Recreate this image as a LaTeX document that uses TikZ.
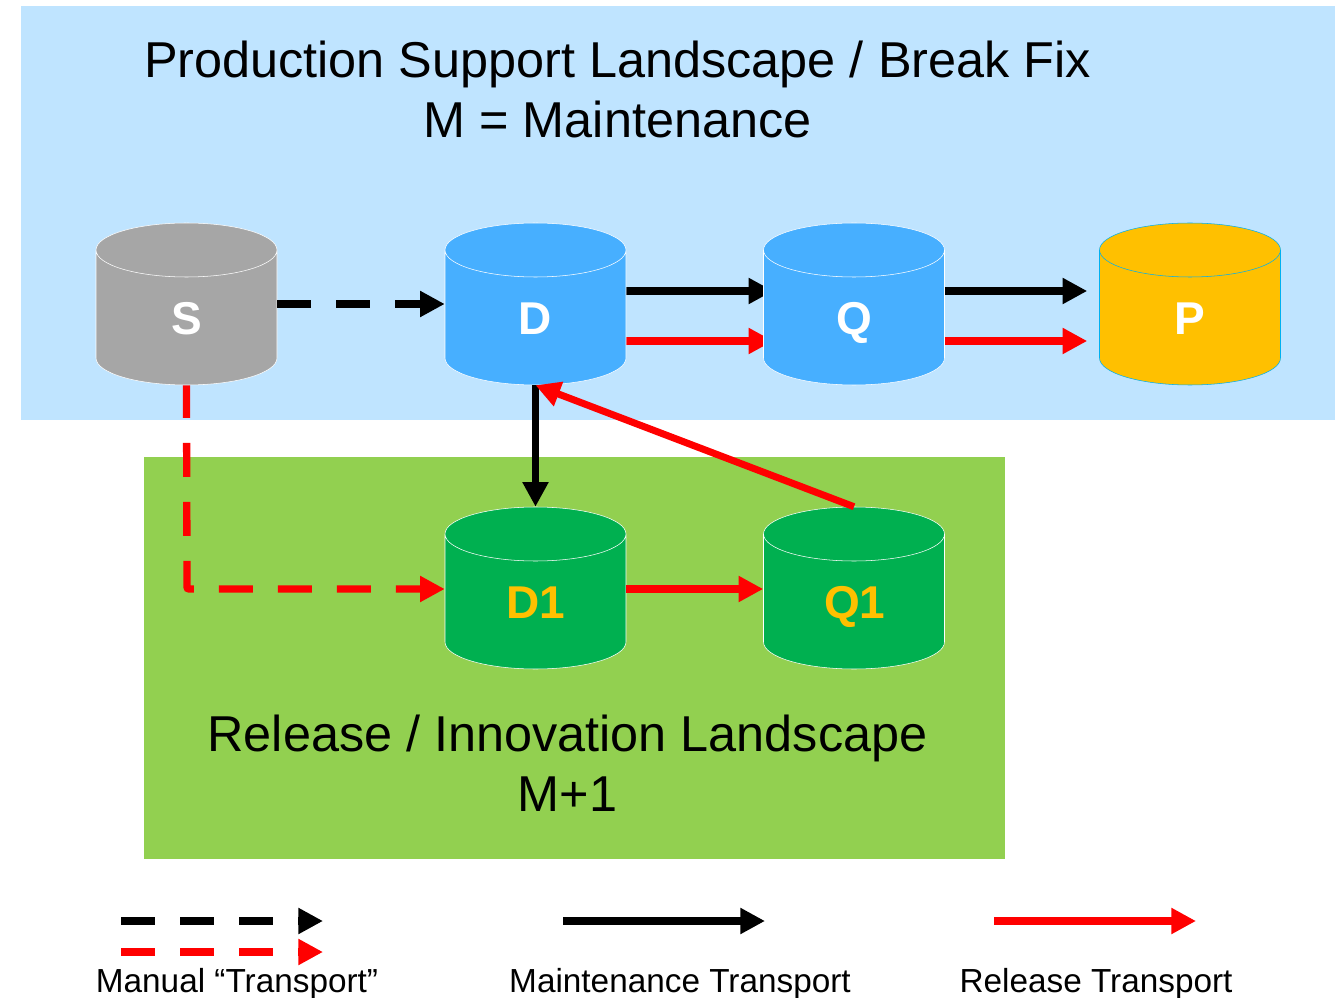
\documentclass[tikz,border=0pt]{standalone}
\usepackage{fontspec}
\setmainfont{Liberation Sans}
\usetikzlibrary{arrows.meta}
\usetikzlibrary{shapes.geometric}
\definecolor{prodblue}{RGB}{191,228,255}
\definecolor{relgreen}{RGB}{146,208,80}
\definecolor{mydarkblue}{RGB}{71,175,255}
\definecolor{mydarkgreen}{RGB}{0,176,80}
\definecolor{mygray}{RGB}{166,166,166}
\definecolor{myorange}{RGB}{255,192,0}
\definecolor{myedge}{RGB}{0,176,240}
\newcommand{\widthstore}{135.75pt}
\newcommand{\heightstore}{121.5pt}
\pgfdeclarelayer{back}
\pgfdeclarelayer{links}
\pgfsetlayers{back,links,main}
\tikzset{
    store/.style={draw=white, cylinder, shape border rotate=90, aspect=0.9, anchor=shape center, minimum width=\widthstore, minimum height=\heightstore, inner sep=0pt, text=white, text width=45pt, align=center, text height=25pt, text depth=0pt, font=\bfseries\fontsize{34.5}{40}\selectfont},
    caption/.style={align=center, font=\fontsize{37.8}{45}\selectfont},
    legend/.style={font=\fontsize{25}{30}\selectfont},
    move/.style={-{Triangle[length=18.5pt, width=18.5pt]}, line width=6.5pt},
    manual/.style={move, dash pattern=on 25.5pt off 18.75pt},
    maint/.style={move, black},
    rel/.style={move, red},
    thin move/.style={line width=5.25pt},
}

\begin{document}
\begin{tikzpicture}[x=0.75pt, y=-0.75pt]
    \useasboundingbox (0,0) rectangle (1335,998);
    \begin{pgfonlayer}{back}
        \fill[prodblue] (21,6) rectangle (1335,420);
        \fill[relgreen] (144,457) rectangle (1005,859);
    \end{pgfonlayer}
    \node[caption] (prodtitle) at (617.5,89.5) {Production Support Landscape / Break Fix\\M = Maintenance};
    \node[caption] (reltitle) at (567.5,763.5) {Release / Innovation Landscape\\M+1};

    \path (186.5,304)
        node[store, fill=mygray] (S) {S}
        ++(349,0) node[store, fill=mydarkblue] (D) {D}
        ++(318.5,0) node[store, fill=mydarkblue] (Q) {Q}
        ++(336,0) node[store, fill=myorange, draw=myedge] (P) {P};
    \path (535.5,588)
        node[store, fill=mydarkgreen, text=myorange] (D1) {D1}
        ++(318.5,0) node[store, fill=mydarkgreen, text=myorange] (Q1) {Q1};

    \coordinate (maintrow) at (0,291);
    \coordinate (relrow) at (0,341);
    \coordinate (bend) at (187,589);
    \coordinate (mantop-a) at (121,921);
    \coordinate (mantop-b) at (323,921);
    \coordinate (manlow-a) at (121,952);
    \coordinate (manlow-b) at (323,952);
    \coordinate (maint-a) at (563,921);
    \coordinate (maint-b) at (765,921);
    \coordinate (rel-a) at (994,921);
    \coordinate (rel-b) at (1196,921);

    \draw[manual, black] (S.east |- S.shape center) -- (D.west |- S.shape center);
    \begin{pgfonlayer}{links}
        \draw[maint, shorten >=-7.5pt] (D.east |- maintrow) -- (Q.west |- maintrow);
        \draw[rel, shorten >=-7.5pt] (D.east |- relrow) -- (Q.west |- relrow);
    \end{pgfonlayer}
    \draw[maint, shorten >=9pt] (Q.east |- maintrow) -- (P.west |- maintrow);
    \draw[rel, shorten >=9pt] (Q.east |- relrow) -- (P.west |- relrow);
    \draw[maint, thin move] (D.south) -- (D1.north);
    \draw[rel, thin move] (Q1.north) -- (D.south);
    \draw[manual, red, line width=5.5pt, rounded corners=1.5pt, dash phase=1pt] (S.south) -- (bend) -- (D1.west |- bend);
    \draw[rel] (D1.east |- bend) -- (Q1.west |- bend);

    \draw[manual, black] (mantop-a) -- (mantop-b);
    \draw[manual, red] (manlow-a) -- (manlow-b);
    \draw[maint] (maint-a) -- (maint-b);
    \draw[rel] (rel-a) -- (rel-b);
    \node[legend] (manlabel) at (237,984) {Manual “Transport”};
    \node[legend] (maintlabel) at (680,984) {Maintenance Transport};
    \node[legend] (rellabel) at (1096,984) {Release Transport};
\end{tikzpicture}
\end{document}
